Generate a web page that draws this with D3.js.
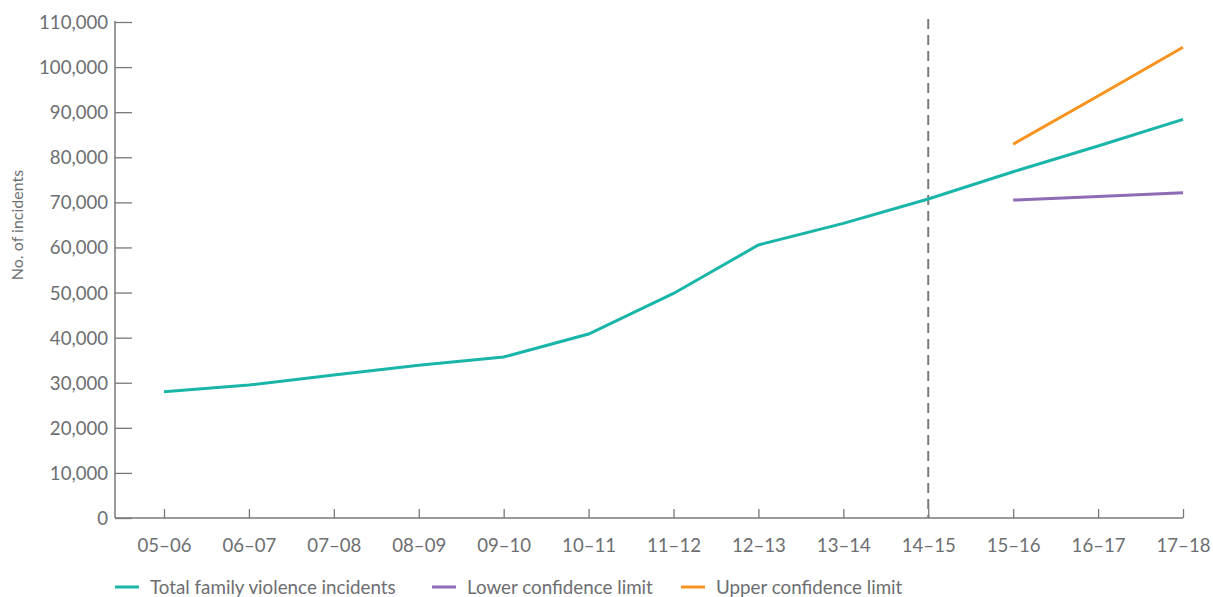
<!DOCTYPE html>
<html>
<head>
<meta charset="utf-8">
<script src="https://cdn.jsdelivr.net/npm/d3@7"></script>
<style>
  body { margin: 0; background: #fff; }
  text { font-family: Lato, "Open Sans", sans-serif; fill: #6d6e71; }
</style>
</head>
<body>
<div id="chart"></div>
<script>
const years = ['05–06', '06–07', '07–08', '08–09', '09–10', '10–11', '11–12', '12–13', '13–14', '14–15', '15–16', '16–17', '17–18'];
const totalIncidents = [28000, 29500, 31700, 33900, 35700, 40800, 49800, 60550, 65350, 70750, 76800, 82500, 88400];
const forecastYears = ['15–16', '16–17', '17–18'];
const lowerLimit = [70500, 71300, 72150];
const upperLimit = [82900, 93600, 104400];
const yTicks = [0, 10000, 20000, 30000, 40000, 50000, 60000, 70000, 80000, 90000, 100000, 110000];
const splitYear = '14–15';

const svgWidth = 1213;
const svgHeight = 597;
const axisLeftX = 115;
const axisRightX = 1183;
const plotTop = 22;
const plotBottom = 518;
const axisColor = '#77787b';

const colors = {
    total: '#1ab5a9',
    lower: '#8d6bb5',
    upper: '#f7931e'
};

const svg = d3.select('#chart').append('svg')
    .attr('width', svgWidth)
    .attr('height', svgHeight);

const x = d3.scalePoint().domain(years).range([164, axisRightX]);
const y = d3.scaleLinear().domain([0, 110000]).range([plotBottom, plotTop]);

// Y axis: ticks point inward
const yAxis = svg.append('g')
    .attr('transform', 'translate(' + axisLeftX + ',0)')
    .call(d3.axisRight(y).tickValues(yTicks).tickSize(17).tickFormat(d3.format(',')));
yAxis.select('.domain').remove();
yAxis.selectAll('.tick line').attr('stroke', axisColor).attr('stroke-width', 1.3);
yAxis.selectAll('.tick text')
    .attr('x', -7)
    .attr('text-anchor', 'end')
    .attr('dy', '0.35em')
    .style('font-size', '18.6px');

svg.append('line')
    .attr('x1', axisLeftX).attr('x2', axisLeftX)
    .attr('y1', plotTop - 1).attr('y2', plotBottom)
    .attr('stroke', axisColor).attr('stroke-width', 1.5);

// X axis: ticks point upward
const xAxis = svg.append('g')
    .attr('transform', 'translate(0,' + plotBottom + ')')
    .call(d3.axisBottom(x).tickSize(0));
xAxis.select('.domain').remove();
xAxis.selectAll('.tick line')
    .attr('y1', 0).attr('y2', -9)
    .attr('stroke', axisColor).attr('stroke-width', 1.3);
xAxis.selectAll('.tick text')
    .attr('y', 27)
    .attr('dy', '0.35em')
    .style('font-size', '18.6px');

svg.append('line')
    .attr('x1', axisLeftX).attr('x2', axisRightX)
    .attr('y1', plotBottom).attr('y2', plotBottom)
    .attr('stroke', axisColor).attr('stroke-width', 1.5);

// Axis title
svg.append('text')
    .attr('transform', 'translate(23,225) rotate(-90)')
    .attr('text-anchor', 'middle')
    .style('font-size', '16px')
    .text('No. of incidents');

// Dashed divider between actual and forecast
svg.append('line')
    .attr('x1', x(splitYear)).attr('x2', x(splitYear))
    .attr('y1', 19).attr('y2', plotBottom)
    .attr('stroke', '#7a7a7a')
    .attr('stroke-width', 2)
    .attr('stroke-dasharray', '10,6');

const line = d3.line()
    .x(d => x(d.year))
    .y(d => y(d.value));

const drawSeries = (cats, values, color) => {
    svg.append('path')
        .datum(cats.map((c, i) => ({year: c, value: values[i]})))
        .attr('fill', 'none')
        .attr('stroke', color)
        .attr('stroke-width', 3)
        .attr('d', line);
};

drawSeries(forecastYears, lowerLimit, colors.lower);
drawSeries(forecastYears, upperLimit, colors.upper);
drawSeries(years, totalIncidents, colors.total);

// Legend
const legendItems = [
    {label: 'Total family violence incidents', color: colors.total, x: 115},
    {label: 'Lower confidence limit', color: colors.lower, x: 432},
    {label: 'Upper confidence limit', color: colors.upper, x: 681}
];
const legend = svg.append('g').attr('transform', 'translate(0,587)');
legendItems.forEach(item => {
    legend.append('line')
        .attr('x1', item.x).attr('x2', item.x + 24)
        .attr('y1', 0).attr('y2', 0)
        .attr('stroke', item.color).attr('stroke-width', 3);
    legend.append('text')
        .attr('x', item.x + 35)
        .attr('dy', '0.35em')
        .style('font-size', '18.8px')
        .text(item.label);
});
</script>
</body>
</html>
